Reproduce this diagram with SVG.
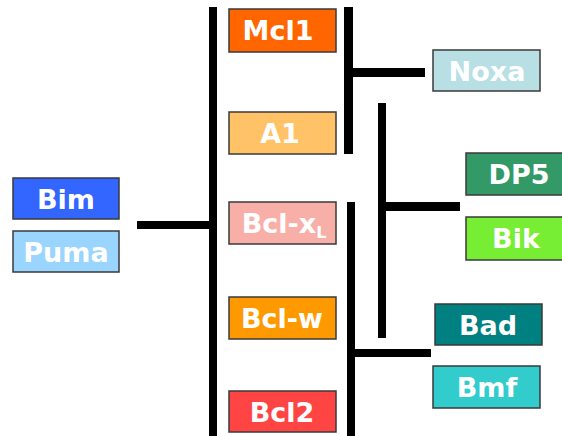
<svg xmlns="http://www.w3.org/2000/svg" width="562" height="436" viewBox="0 0 562 436">
<style>
.box{stroke:#3a3a3a;stroke-width:1.5}
.t{font-family:"DejaVu Sans","Liberation Sans",sans-serif;font-weight:bold;font-size:27px;fill:#fff;text-anchor:middle}
.ln{fill:#000}
</style>
<rect width="562" height="436" fill="#fff"/>
<g id="connectors">
<rect class="ln" x="137" y="221" width="76" height="8"/>
<rect class="ln" x="209" y="7" width="8" height="429"/>
<rect class="ln" x="344" y="7" width="9" height="147"/>
<rect class="ln" x="349" y="68" width="76" height="9"/>
<rect class="ln" x="378" y="103" width="8" height="235"/>
<rect class="ln" x="382" y="202" width="78" height="9"/>
<rect class="ln" x="347" y="202" width="8" height="234"/>
<rect class="ln" x="351" y="349" width="80" height="8"/>
</g>
<g id="bim"><rect class="box" x="13" y="178" width="106" height="41" fill="#3366FF"/><text class="t" x="66" y="209">Bim</text></g>
<g id="puma"><rect class="box" x="13" y="231" width="106" height="41" fill="#99D5FF"/><text class="t" x="66" y="262">Puma</text></g>
<g id="mcl1"><rect class="box" x="229" y="9" width="107" height="43" fill="#FF6600"/><text class="t" x="278" y="40">Mcl1</text></g>
<g id="a1"><rect class="box" x="229" y="112" width="107" height="42" fill="#FFC266"/><text class="t" x="280" y="143">A1</text></g>
<g id="bclxl"><rect class="box" x="229" y="202" width="107" height="42" fill="#F8AFA8"/><text class="t" x="284" y="233">Bcl-x<tspan font-size="16" dy="5">L</tspan></text></g>
<g id="bclw"><rect class="box" x="229" y="297" width="107" height="42" fill="#FF9900"/><text class="t" x="282" y="328">Bcl-w</text></g>
<g id="bcl2"><rect class="box" x="229" y="391" width="107" height="41" fill="#FF4444"/><text class="t" x="282" y="422">Bcl2</text></g>
<g id="noxa"><rect class="box" x="433" y="50" width="107" height="41" fill="#B8E0E4"/><text class="t" x="487" y="81">Noxa</text></g>
<g id="dp5"><rect class="box" x="466" y="153" width="100" height="42" fill="#339966"/><text class="t" x="519" y="184">DP5</text></g>
<g id="bik"><rect class="box" x="466" y="217" width="100" height="43" fill="#77EE33"/><text class="t" x="516" y="248">Bik</text></g>
<g id="bad"><rect class="box" x="435" y="304" width="107" height="41" fill="#008080"/><text class="t" x="488" y="335">Bad</text></g>
<g id="bmf"><rect class="box" x="433" y="366" width="107" height="42" fill="#33CCCC"/><text class="t" x="487" y="397">Bmf</text></g>
</svg>
